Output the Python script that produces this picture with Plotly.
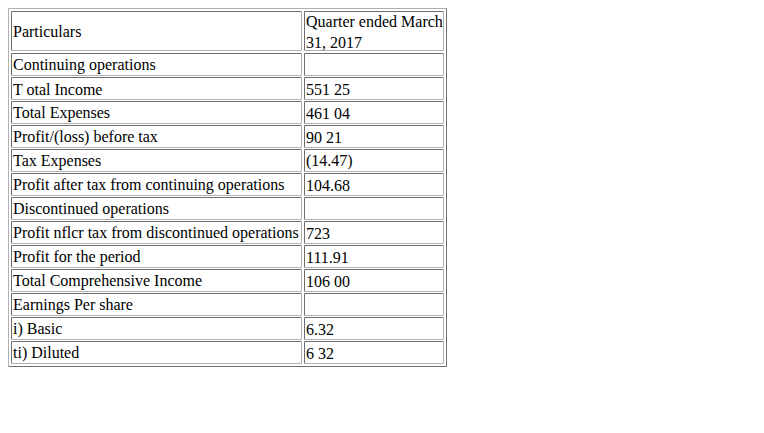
import plotly.graph_objects as go

header = ["Particulars", "Quarter ended March<br>31, 2017"]
particulars = ["Continuing operations", "T otal Income", "Total Expenses", "Profit/(loss) before tax",
               "Tax Expenses", "Profit after tax from continuing operations", "Discontinued operations",
               "Profit nflcr tax from discontinued operations", "Profit for the period",
               "Total Comprehensive Income", "Earnings Per share", "i) Basic", "ti) Diluted"]
values = ["", "551 25", "461 04", "90 21", "(14.47)", "104.68", "", "723", "111.91", "106 00", "", "6.32", "6 32"]

W, H = 764, 433
OFF = 8  # page body margin
fig = go.Figure()
shapes, ann = [], []
DARK, LIGHT = "#6e6e6e", "#b0b0b0"

def box(x0, y0, x1, y1, tl, br):
    x0, y0, x1, y1 = x0 - OFF, y0 - OFF, x1 - OFF, y1 - OFF
    shapes.append(dict(type="line", x0=x0, y0=y0, x1=x1, y1=y0, line=dict(color=tl, width=1)))
    shapes.append(dict(type="line", x0=x0, y0=y0, x1=x0, y1=y1, line=dict(color=tl, width=1)))
    shapes.append(dict(type="line", x0=x0, y0=y1, x1=x1, y1=y1, line=dict(color=br, width=1)))
    shapes.append(dict(type="line", x0=x1, y0=y0, x1=x1, y1=y1, line=dict(color=br, width=1)))

cols = [(11.5, 301.5), (304.5, 443.5)]
rows = [(11.5, 50.5)] + [(53.5 + i * 24, 75.5 + i * 24) for i in range(len(particulars))]
box(8.5, 8.5, 446.5, rows[-1][1] + 3, LIGHT, DARK)
cells = [header] + [[p, v] for p, v in zip(particulars, values)]
for (y0, y1), row in zip(rows, cells):
    for (x0, x1), txt in zip(cols, row):
        box(x0, y0, x1, y1, DARK, LIGHT)
        if txt:
            ann.append(dict(x=x0 + 0.5 - OFF, y=(y0 + y1) / 2 + 0.5 - OFF, text=txt, showarrow=False, xanchor="left",
                            yanchor="middle", align="left", borderpad=0,
                            font=dict(family="Liberation Serif", size=16, color="black")))

fig.update_layout(width=W, height=H, margin=dict(l=0, r=0, t=0, b=0), plot_bgcolor="white", paper_bgcolor="white",
                  shapes=shapes, annotations=ann, showlegend=False,
                  xaxis=dict(range=[0, W], visible=False, fixedrange=True),
                  yaxis=dict(range=[H, 0], visible=False, fixedrange=True))
fig.write_html("out.html", config={"displayModeBar": False})
